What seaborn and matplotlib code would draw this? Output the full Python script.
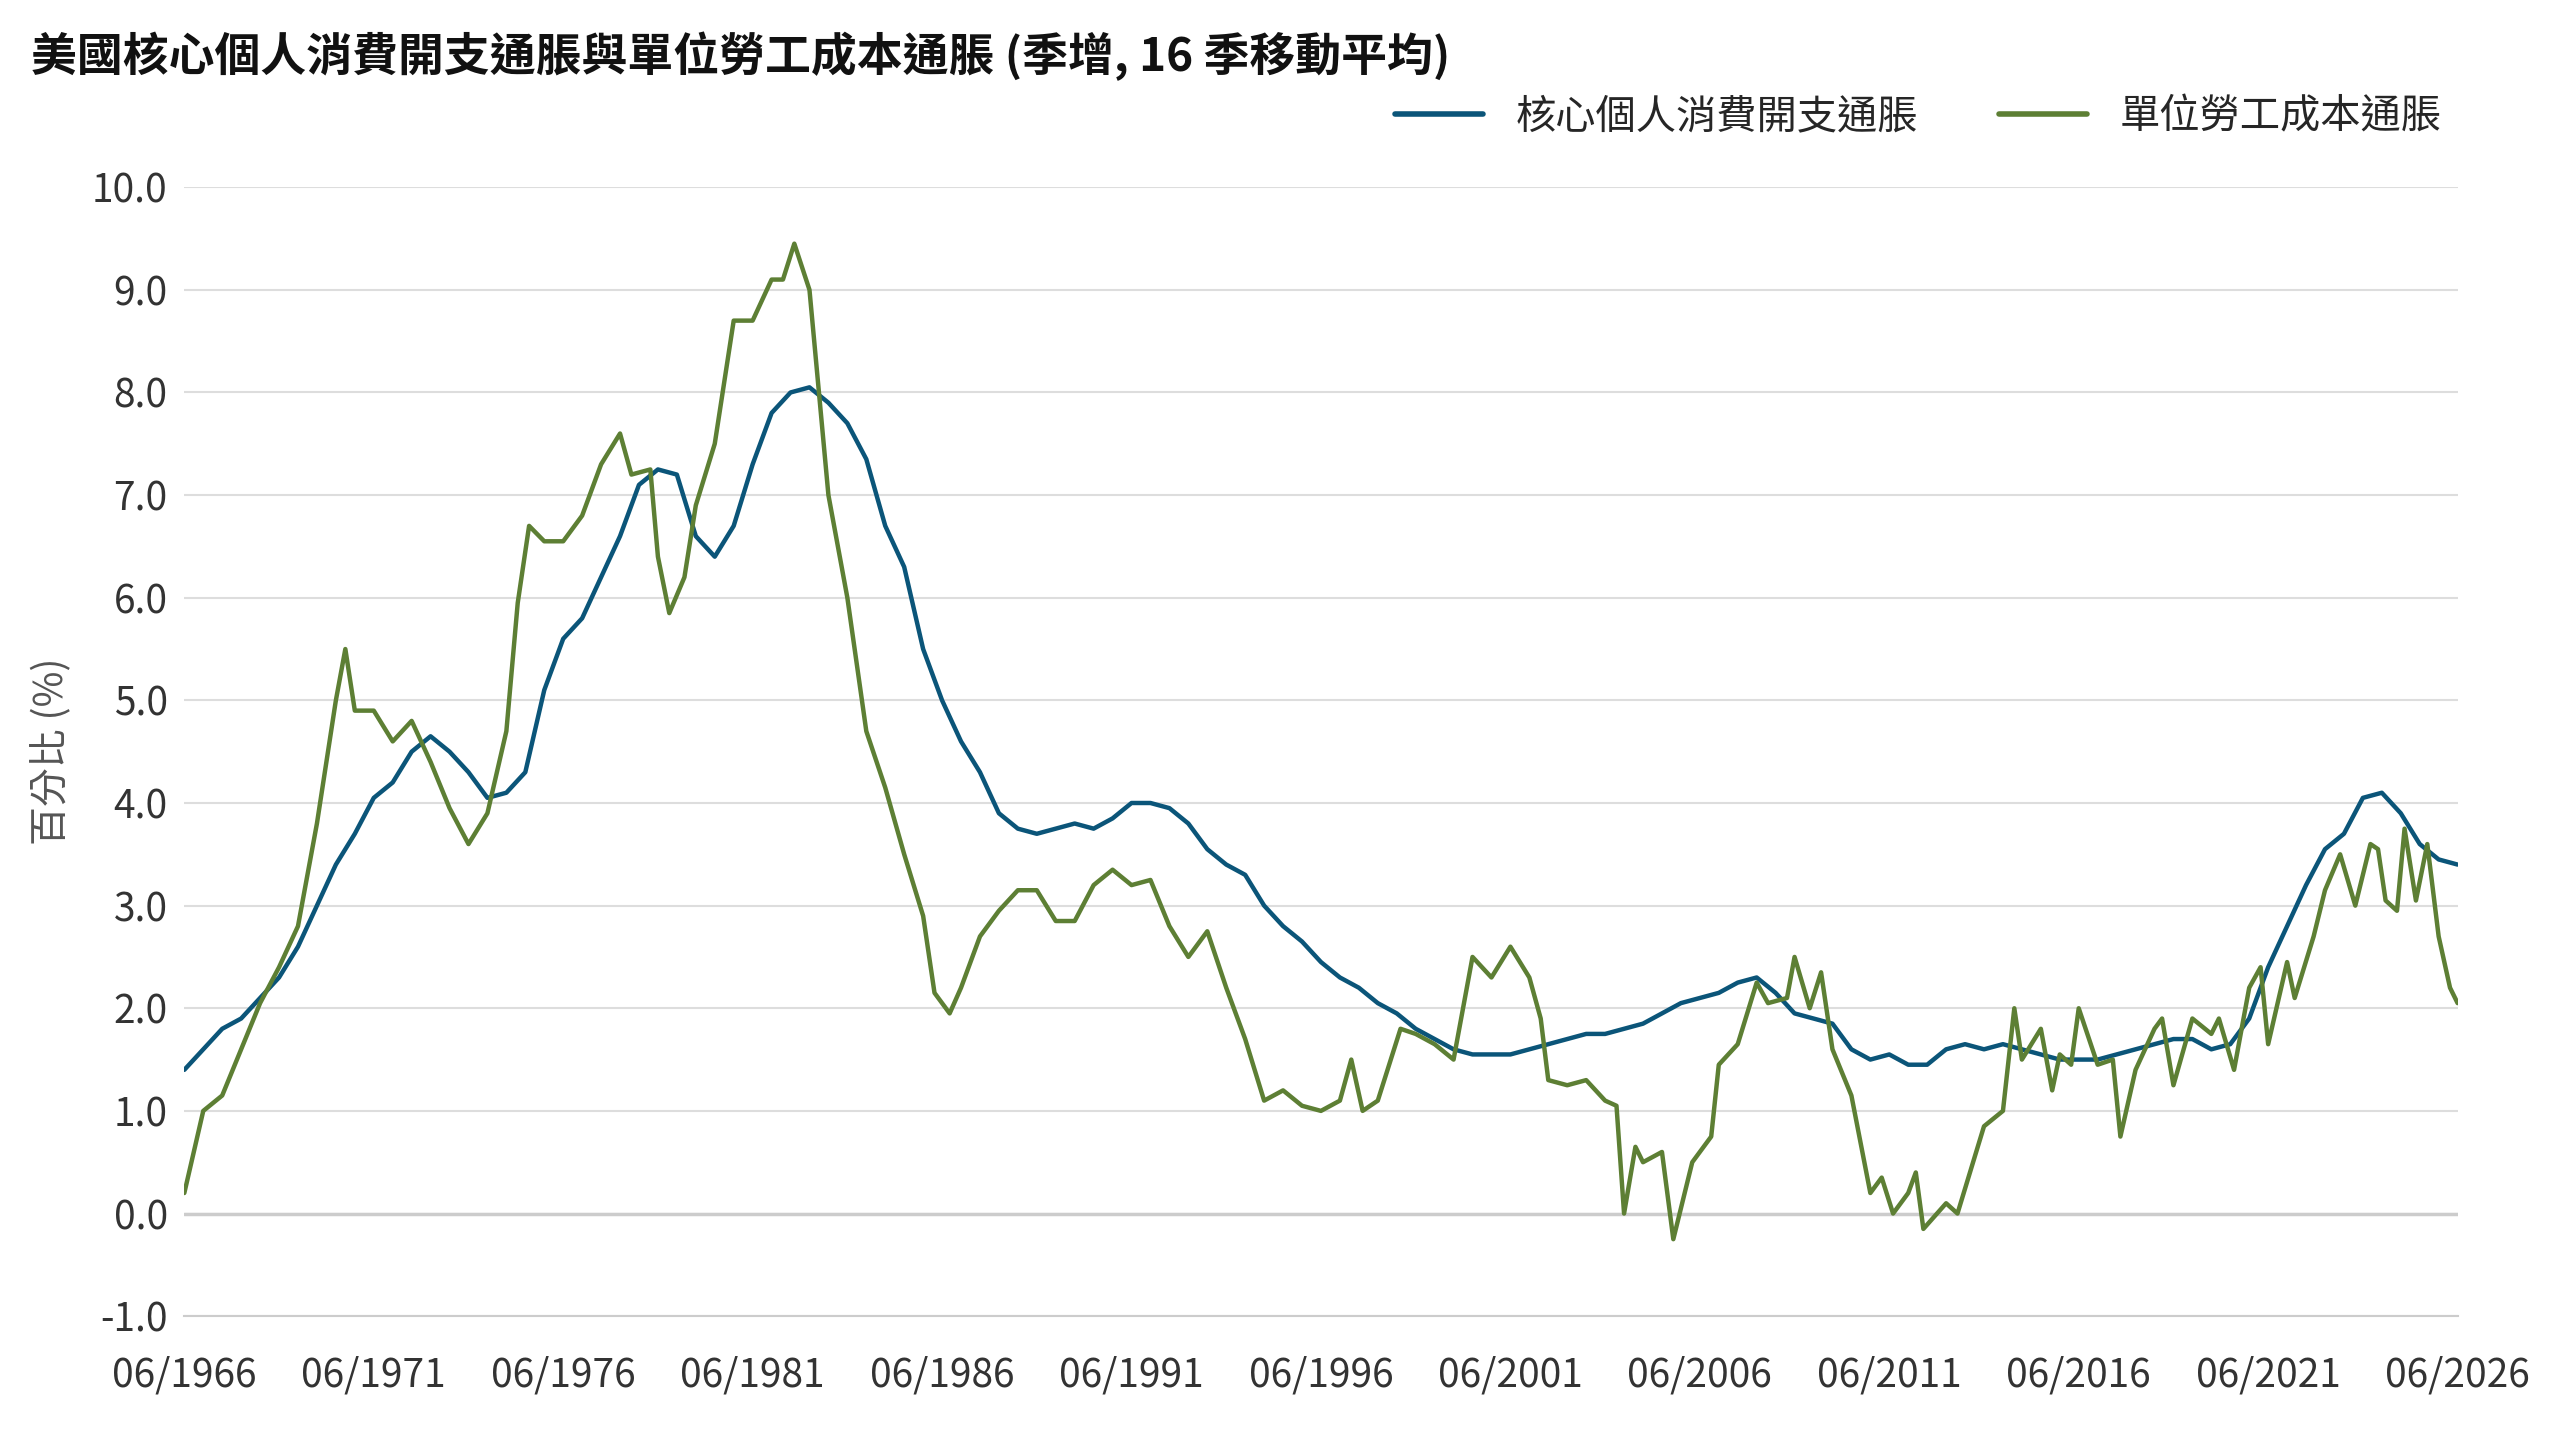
import matplotlib
matplotlib.use("Agg")
import matplotlib.pyplot as plt
import seaborn as sns
import pandas as pd
import numpy as np

pce_t = [1966.5,1967,1967.5,1968,1968.5,1969,1969.5,1970,1970.5,1971,1971.5,1972,1972.5,1973,1973.5,1974,1974.5,1975,1975.5,1976,1976.5,1977,1977.5,1978,1978.5,1979,1979.5,1980,1980.5,1981,1981.5,1982,1982.5,1983,1983.5,1984,1984.5,1985,1985.5,1986,1986.5,1987,1987.5,1988,1988.5,1989,1989.5,1990,1990.5,1991,1991.5,1992,1992.5,1993,1993.5,1994,1994.5,1995,1995.5,1996,1996.5,1997,1997.5,1998,1998.5,1999,1999.5,2000,2000.5,2001,2001.5,2002,2002.5,2003,2003.5,2004,2004.5,2005,2005.5,2006,2006.5,2007,2007.5,2008,2008.5,2009,2009.5,2010,2010.5,2011,2011.5,2012,2012.5,2013,2013.5,2014,2014.5,2015,2015.5,2016,2016.5,2017,2017.5,2018,2018.5,2019,2019.5,2020,2020.5,2021,2021.5,2022,2022.5,2023,2023.5,2024,2024.5,2025,2025.5,2026,2026.5]
pce_v = [1.4,1.6,1.8,1.9,2.1,2.3,2.6,3.0,3.4,3.7,4.05,4.2,4.5,4.65,4.5,4.3,4.05,4.1,4.3,5.1,5.6,5.8,6.2,6.6,7.1,7.25,7.2,6.6,6.4,6.7,7.3,7.8,8.0,8.05,7.9,7.7,7.35,6.7,6.3,5.5,5.0,4.6,4.3,3.9,3.75,3.7,3.75,3.8,3.75,3.85,4.0,4.0,3.95,3.8,3.55,3.4,3.3,3.0,2.8,2.65,2.45,2.3,2.2,2.05,1.95,1.8,1.7,1.6,1.55,1.55,1.55,1.6,1.65,1.7,1.75,1.75,1.8,1.85,1.95,2.05,2.1,2.15,2.25,2.3,2.15,1.95,1.9,1.85,1.6,1.5,1.55,1.45,1.45,1.6,1.65,1.6,1.65,1.6,1.55,1.5,1.5,1.5,1.55,1.6,1.65,1.7,1.7,1.6,1.65,1.9,2.4,2.8,3.2,3.55,3.7,4.05,4.1,3.9,3.6,3.45,3.4]

ulc_t = [1966.5,1967,1967.5,1968,1968.5,1969,1969.5,1970,1970.5,1970.75,1971,1971.5,1972,1972.5,1973,1973.5,1974,1974.5,1975,1975.3,1975.6,1976,1976.5,1977,1977.5,1978,1978.3,1978.8,1979,1979.3,1979.7,1980,1980.5,1981,1981.5,1982,1982.3,1982.6,1983,1983.5,1984,1984.5,1985,1985.5,1986,1986.3,1986.7,1987,1987.5,1988,1988.5,1989,1989.5,1990,1990.5,1991,1991.5,1992,1992.5,1993,1993.5,1994,1994.5,1995,1995.5,1996,1996.5,1997,1997.3,1997.6,1998,1998.6,1999,1999.5,2000,2000.5,2001,2001.5,2002,2002.3,2002.5,2003,2003.5,2004,2004.3,2004.5,2004.8,2005,2005.5,2005.8,2006.3,2006.8,2007,2007.5,2008,2008.3,2008.8,2009,2009.4,2009.7,2010,2010.5,2011,2011.3,2011.6,2012,2012.2,2012.4,2013,2013.3,2014,2014.5,2014.8,2015,2015.5,2015.8,2016,2016.3,2016.5,2017,2017.4,2017.6,2018,2018.5,2018.7,2019,2019.5,2020,2020.2,2020.6,2021,2021.3,2021.5,2022,2022.2,2022.7,2023,2023.4,2023.8,2024.2,2024.4,2024.6,2024.9,2025.1,2025.4,2025.7,2026,2026.3,2026.5]
ulc_v = [0.2,1.0,1.15,1.6,2.05,2.4,2.8,3.8,5.0,5.5,4.9,4.9,4.6,4.8,4.4,3.95,3.6,3.9,4.7,5.95,6.7,6.55,6.55,6.8,7.3,7.6,7.2,7.25,6.4,5.85,6.2,6.9,7.5,8.7,8.7,9.1,9.1,9.45,9.0,7.0,6.0,4.7,4.15,3.5,2.9,2.15,1.95,2.2,2.7,2.95,3.15,3.15,2.85,2.85,3.2,3.35,3.2,3.25,2.8,2.5,2.75,2.2,1.7,1.1,1.2,1.05,1.0,1.1,1.5,1.0,1.1,1.8,1.75,1.65,1.5,2.5,2.3,2.6,2.3,1.9,1.3,1.25,1.3,1.1,1.05,0.0,0.65,0.5,0.6,-0.25,0.5,0.75,1.45,1.65,2.25,2.05,2.1,2.5,2.0,2.35,1.6,1.15,0.2,0.35,0.0,0.2,0.4,-0.15,0.1,0.0,0.85,1.0,2.0,1.5,1.8,1.2,1.55,1.45,2.0,1.45,1.5,0.75,1.4,1.8,1.9,1.25,1.9,1.75,1.9,1.4,2.2,2.4,1.65,2.45,2.1,2.7,3.15,3.5,3.0,3.6,3.55,3.05,2.95,3.75,3.05,3.6,2.7,2.2,2.05]

tick_labels = ["06/1966","06/1971","06/1976","06/1981","06/1986","06/1991","06/1996","06/2001","06/2006","06/2011","06/2016","06/2021","06/2026"]
s1 = "核心個人消費開支通脹"
s2 = "單位勞工成本通脹"

sns.set_theme(style="white")
plt.rcParams['font.family'] = ['Noto Sans CJK TC', 'DejaVu Sans']

df = pd.concat([
    pd.DataFrame({"t": pce_t, "v": pce_v, "s": s1}),
    pd.DataFrame({"t": ulc_t, "v": ulc_v, "s": s2}),
])

fig = plt.figure(figsize=(25.6, 14.4), dpi=100)
ax = fig.add_axes([0.072, 0.086, 0.888, 0.784])
sns.lineplot(data=df, x="t", y="v", hue="s", palette={s1: "#0b5579", s2: "#5d7f34"},
             linewidth=3.2, ax=ax, sort=False, estimator=None)

ax.set_xlim(1966.5, 2026.5)
ax.set_ylim(-1, 10)
ax.set_yticks(np.arange(-1, 10.01, 1))
ax.set_yticklabels([f"{v:.1f}" for v in np.arange(-1, 10.01, 1)], fontsize=28, color="#333333")
xt = [1966.5 + 5 * i for i in range(len(tick_labels))]
ax.set_xticks(xt)
ax.set_xticklabels(tick_labels, fontsize=28, color="#333333")
ax.tick_params(axis="x", length=10, color="#bbbbbb", width=1.5, pad=18)
ax.tick_params(axis="y", length=0, pad=12)
ax.grid(axis="y", color="#dddddd", linewidth=1.5)
ax.axhline(0, color="#cccccc", linewidth=2.5, zorder=1)
for s in ["top", "right", "left"]:
    ax.spines[s].set_visible(False)
ax.spines["bottom"].set_color("#cccccc")
ax.spines["bottom"].set_linewidth(1.5)
ax.set_xlabel("")
ax.set_ylabel("百分比 (%)", fontsize=28, color="#555555", labelpad=14)

leg = ax.legend(loc="lower right", bbox_to_anchor=(1.0, 1.03), ncol=2, frameon=False,
                fontsize=29, handlelength=2.2, columnspacing=2.0, borderaxespad=0)
for line in leg.get_lines():
    line.set_linewidth(4)
fig.text(0.012, 0.978, "美國核心個人消費開支通脹與單位勞工成本通脹 (季增, 16 季移動平均)",
         fontsize=33, fontweight="bold", va="top", ha="left", color="#111111")

fig.savefig("out.png", dpi=100)
